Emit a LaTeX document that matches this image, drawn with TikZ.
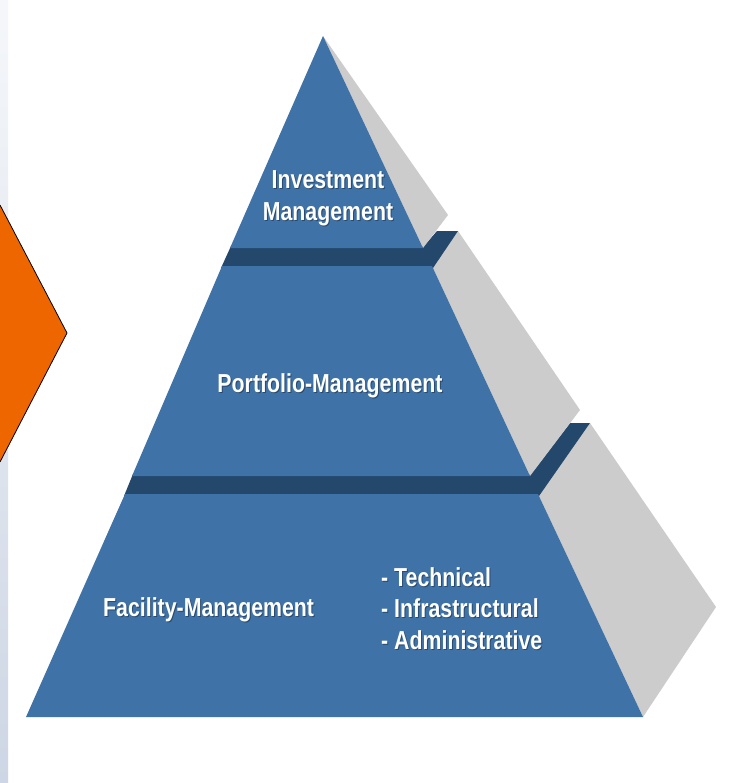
\documentclass[tikz,border=0pt]{standalone}
\usepackage{fontspec}
\newfontfamily\labelfont{Liberation Sans}[FakeStretch=0.82]
\definecolor{pyrblue}{RGB}{63,114,167}
\definecolor{pyrdark}{RGB}{36,71,108}
\definecolor{pyrgray}{RGB}{204,204,204}
\definecolor{arrorange}{RGB}{238,102,0}
\definecolor{stripTop}{RGB}{245,247,250}
\definecolor{stripBot}{RGB}{205,214,228}
\tikzset{
  frontface/.style={fill=pyrblue},
  sideface/.style={fill=pyrgray},
  topface/.style={fill=pyrdark},
  lbl/.style={text=white, font=\labelfont\bfseries\fontsize{26bp}{31bp}\selectfont, inner sep=0pt},
  lblshadow/.style={text=black, opacity=0.35, font=\labelfont\bfseries\fontsize{26bp}{31bp}\selectfont, inner sep=0pt},
}
\begin{document}
\begin{tikzpicture}[x=1bp,y=-1bp]
\useasboundingbox (0,0) rectangle (731,783);
\fill[white] (0,0) rectangle (731,783);
% left gradient strip
\shade[top color=stripTop, bottom color=stripBot] (0,0) rectangle (8,783);
% orange chevron
\fill[arrorange] (0,205) -- (67,333) -- (0,462) -- cycle;
\draw[black, line width=0.8bp] (0,205) -- (67,333) -- (0,462);

% bottom slab
\fill[sideface] (538,494) -- (590,423) -- (716,607) -- (643,717) -- cycle;
\fill[topface] (124,496) -- (539,496) -- (590,423) -- (570,423) -- (531,474) -- (133,474) -- cycle;
\fill[frontface] (125,494) -- (538,494) -- (643,717) -- (26,717) -- cycle;

% middle slab
\fill[sideface] (432,266) -- (458,231) -- (580,410) -- (530,476) -- cycle;
\fill[topface] (221,268) -- (433,268) -- (458,231) -- (437,231) -- (424,246) -- (231,246) -- cycle;
\fill[frontface] (222,266) -- (432,266) -- (530,476) -- (132,476) -- cycle;

% top slab
\fill[sideface] (323,36) -- (448,215) -- (423,248) -- cycle;
\fill[frontface] (323,36) -- (423,248) -- (230,248) -- cycle;

% labels (shadows)
\node[lblshadow, anchor=base] (invS) at (329,189) {Investment};
\node[lblshadow, anchor=base] (mgmS) at (329,221) {Management};
\node[lblshadow, anchor=base] (portS) at (331,393) {Portfolio-Management};
\node[lblshadow, anchor=base west] (facS) at (104,617) {Facility-Management};
\node[lblshadow, anchor=base west] (techS) at (382,587) {- Technical};
\node[lblshadow, anchor=base west] (infS) at (382,618) {- Infrastructural};
\node[lblshadow, anchor=base west] (admS) at (382,650) {- Administrative};
% labels
\node[lbl, anchor=base] (inv) at (328,188) {Investment};
\node[lbl, anchor=base] (mgm) at (328,220) {Management};
\node[lbl, anchor=base] (port) at (330,392) {Portfolio-Management};
\node[lbl, anchor=base west] (fac) at (103,616) {Facility-Management};
\node[lbl, anchor=base west] (tech) at (381,586) {- Technical};
\node[lbl, anchor=base west] (inf) at (381,617) {- Infrastructural};
\node[lbl, anchor=base west] (adm) at (381,649) {- Administrative};
\end{tikzpicture}
\end{document}
